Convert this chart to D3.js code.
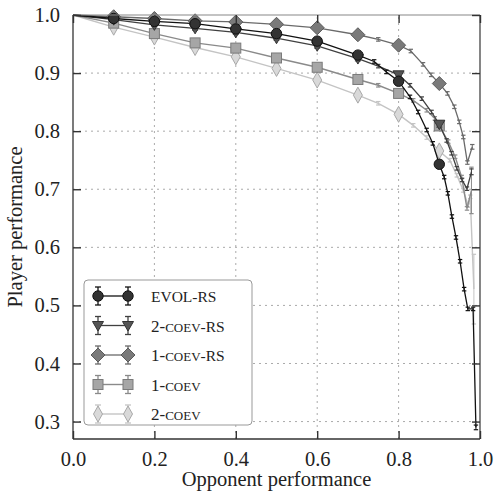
<!DOCTYPE html>
<html><head><meta charset="utf-8">
<script src="https://cdn.jsdelivr.net/npm/d3@7"></script>
<style>body{margin:0;background:#fff}svg{display:block}text{font-family:"Liberation Serif","Times New Roman",Times,serif}</style>
</head><body><svg id="c" width="494" height="494"></svg>
<script>
const xTicks = [0, 0.2, 0.4, 0.6, 0.8, 1.0];
const yTicks = [0.3, 0.4, 0.5, 0.6, 0.7, 0.8, 0.9, 1.0];
const seriesNames = ["EVOL-RS", "2-COEV-RS", "1-COEV-RS", "1-COEV", "2-COEV"];

const evolX = [0, 0.1, 0.2, 0.3, 0.4, 0.5, 0.6, 0.7, 0.74, 0.77, 0.8, 0.828, 0.848, 0.869, 0.884, 0.9, 0.912, 0.921, 0.931, 0.941, 0.951, 0.961, 0.970, 0.983, 0.990];
const evolY = [1.0, 0.994, 0.989, 0.985, 0.976, 0.968, 0.955, 0.931, 0.920, 0.902, 0.886, 0.859, 0.833, 0.802, 0.779, 0.743, 0.721, 0.693, 0.653, 0.617, 0.576, 0.528, 0.494, 0.494, 0.290];
const evolErr = [0, 0.002, 0.002, 0.002, 0.002, 0.003, 0.003, 0.003, 0.003, 0.003, 0.004, 0.003, 0.003, 0.003, 0.003, 0.005, 0.003, 0.003, 0.003, 0.003, 0.003, 0.003, 0.003, 0.003, 0.004];

const coev2rsX = [0, 0.1, 0.2, 0.3, 0.4, 0.5, 0.6, 0.7, 0.75, 0.8, 0.828, 0.857, 0.881, 0.9, 0.918, 0.930, 0.943, 0.956, 0.968, 0.979];
const coev2rsY = [1.0, 0.992, 0.983, 0.977, 0.970, 0.960, 0.947, 0.925, 0.912, 0.897, 0.879, 0.856, 0.833, 0.812, 0.784, 0.762, 0.736, 0.716, 0.701, 0.730];
const coev2rsErr = [0, 0.003, 0.003, 0.003, 0.003, 0.003, 0.004, 0.004, 0.003, 0.005, 0.003, 0.003, 0.003, 0.005, 0.003, 0.003, 0.003, 0.003, 0.003, 0.005];

const coev1rsX = [0, 0.1, 0.2, 0.3, 0.4, 0.5, 0.6, 0.7, 0.75, 0.8, 0.83, 0.86, 0.88, 0.9, 0.92, 0.937, 0.949, 0.959, 0.969, 0.981];
const coev1rsY = [1.0, 0.997, 0.994, 0.990, 0.988, 0.984, 0.978, 0.966, 0.958, 0.948, 0.938, 0.915, 0.897, 0.882, 0.865, 0.842, 0.816, 0.790, 0.746, 0.773];
const coev1rsErr = [0, 0.002, 0.002, 0.002, 0.002, 0.002, 0.003, 0.003, 0.003, 0.004, 0.003, 0.003, 0.003, 0.004, 0.003, 0.003, 0.003, 0.003, 0.003, 0.004];

const coev1X = [0, 0.1, 0.2, 0.3, 0.4, 0.5, 0.6, 0.7, 0.75, 0.8, 0.836, 0.869, 0.889, 0.9, 0.922, 0.939, 0.955, 0.968, 0.979];
const coev1Y = [1.0, 0.986, 0.968, 0.952, 0.943, 0.926, 0.910, 0.889, 0.879, 0.865, 0.853, 0.836, 0.822, 0.809, 0.782, 0.756, 0.721, 0.667, 0.698];
const coev1Err = [0, 0.003, 0.003, 0.003, 0.003, 0.003, 0.003, 0.004, 0.003, 0.005, 0.003, 0.003, 0.003, 0.005, 0.003, 0.003, 0.003, 0.003, 0.04];

const coev2X = [0, 0.1, 0.2, 0.3, 0.4, 0.5, 0.6, 0.7, 0.75, 0.8, 0.836, 0.869, 0.9, 0.926, 0.943, 0.959, 0.971, 0.976, 0.985];
const coev2Y = [1.0, 0.979, 0.962, 0.944, 0.928, 0.908, 0.888, 0.862, 0.848, 0.829, 0.810, 0.789, 0.766, 0.750, 0.724, 0.698, 0.672, 0.687, 0.528];
const coev2Err = [0, 0.003, 0.003, 0.003, 0.003, 0.003, 0.003, 0.004, 0.003, 0.005, 0.003, 0.003, 0.005, 0.003, 0.003, 0.003, 0.003, 0.003, 0.06];

const W = 494, H = 494;
const m = {left: 73, right: 14, top: 15, bottom: 55};
const x = d3.scaleLinear().domain([0, 1]).range([m.left, W - m.right]);
const y = d3.scaleLinear().domain([0.27, 1.0]).range([H - m.bottom, m.top]);
const svg = d3.select("#c");
const FONT = "Liberation Serif";
const FS = 20.5;

const grid = svg.append("g");
xTicks.filter(t => t > 0 && t < 1).forEach(t => {
  grid.append("line").attr("x1", x(t)).attr("x2", x(t)).attr("y1", y(0.27)).attr("y2", y(1))
    .attr("stroke", "#aaa").attr("stroke-width", 1).attr("stroke-dasharray", "2,4");
});
yTicks.filter(t => t < 1).forEach(t => {
  grid.append("line").attr("x1", x(0)).attr("x2", x(1)).attr("y1", y(t)).attr("y2", y(t))
    .attr("stroke", "#aaa").attr("stroke-width", 1).attr("stroke-dasharray", "2,4");
});

const series = [
  {name: seriesNames[4], xs: coev2X, ys: coev2Y, es: coev2Err, line: "#c4c4c4", fill: "#d9d9d9", stroke: "#a8a8a8", shape: "thin", lw: 1.4},
  {name: seriesNames[3], xs: coev1X, ys: coev1Y, es: coev1Err, line: "#8a8a8a", fill: "#a6a6a6", stroke: "#7a7a7a", shape: "square", lw: 1.4},
  {name: seriesNames[2], xs: coev1rsX, ys: coev1rsY, es: coev1rsErr, line: "#6a6a6a", fill: "#7a7a7a", stroke: "#5a5a5a", shape: "diamond", lw: 1.3},
  {name: seriesNames[1], xs: coev2rsX, ys: coev2rsY, es: coev2rsErr, line: "#404040", fill: "#555", stroke: "#333", shape: "tri", lw: 1.3},
  {name: seriesNames[0], xs: evolX, ys: evolY, es: evolErr, line: "#111", fill: "#333", stroke: "#111", shape: "circle", lw: 1.3}
];

function marker(g, shape, cx, cy, s) {
  let el;
  if (shape === "circle") {
    el = g.append("circle").attr("cx", cx).attr("cy", cy).attr("r", 5.2);
  } else if (shape === "square") {
    el = g.append("rect").attr("x", cx - 5).attr("y", cy - 5).attr("width", 10).attr("height", 10);
  } else if (shape === "diamond") {
    el = g.append("path").attr("d", `M${cx},${cy-7}L${cx+7},${cy}L${cx},${cy+7}L${cx-7},${cy}Z`);
  } else if (shape === "thin") {
    el = g.append("path").attr("d", `M${cx},${cy-8}L${cx+4.5},${cy}L${cx},${cy+8}L${cx-4.5},${cy}Z`);
  } else {
    el = g.append("path").attr("d", `M${cx-5.5},${cy-4}L${cx+5.5},${cy-4}L${cx},${cy+5.5}Z`);
  }
  el.attr("fill", s.fill).attr("stroke", s.stroke).attr("stroke-width", 1);
}

const isMajor = v => v > 0.05 && v < 0.95 && Math.abs(v * 10 - Math.round(v * 10)) < 1e-6;

const plot = svg.append("g");
series.forEach(s => {
  const pts = s.xs.map((v, i) => ({x: v, y: s.ys[i], e: s.es[i]}));
  const g = plot.append("g");
  g.append("path").datum(pts)
    .attr("d", d3.line().x(d => x(d.x)).y(d => y(d.y)))
    .attr("fill", "none").attr("stroke", s.line).attr("stroke-width", s.lw);
  pts.forEach(p => {
    if (p.e <= 0) return;
    const cw = isMajor(p.x) ? 3 : 2.2;
    const y1 = y(p.y - p.e), y2 = y(p.y + p.e);
    g.append("line").attr("x1", x(p.x)).attr("x2", x(p.x)).attr("y1", y1).attr("y2", y2).attr("stroke", s.line).attr("stroke-width", 1);
    [y1, y2].forEach(yy => g.append("line").attr("x1", x(p.x) - cw).attr("x2", x(p.x) + cw).attr("y1", yy).attr("y2", yy).attr("stroke", s.line).attr("stroke-width", 1.2));
  });
  pts.filter(p => isMajor(p.x)).forEach(p => marker(g, s.shape, x(p.x), y(p.y), s));
});

const fr = svg.append("g");
fr.append("line").attr("x1", x(0)).attr("x2", x(1)).attr("y1", y(1)).attr("y2", y(1)).attr("stroke", "#888").attr("stroke-width", 1.2);
fr.append("line").attr("x1", x(1)).attr("x2", x(1)).attr("y1", y(1)).attr("y2", y(0.27)).attr("stroke", "#444").attr("stroke-width", 1.3);
fr.append("line").attr("x1", x(0)).attr("x2", x(1)).attr("y1", y(0.27)).attr("y2", y(0.27)).attr("stroke", "#333").attr("stroke-width", 1.3);
fr.append("line").attr("x1", x(0)).attr("x2", x(0)).attr("y1", y(1)).attr("y2", y(0.27)).attr("stroke", "#333").attr("stroke-width", 1.3);

const xAxis = svg.append("g").attr("transform", `translate(0,${y(0.27)})`)
  .call(d3.axisBottom(x).tickValues(xTicks).tickFormat(d3.format(".1f")).tickSizeInner(-8).tickSizeOuter(0).tickPadding(12));
const yAxis = svg.append("g").attr("transform", `translate(${x(0)},0)`)
  .call(d3.axisLeft(y).tickValues(yTicks).tickFormat(d3.format(".1f")).tickSizeInner(-8).tickSizeOuter(0).tickPadding(13));
const yAxisR = svg.append("g").attr("transform", `translate(${x(1)},0)`)
  .call(d3.axisRight(y).tickValues(yTicks).tickFormat("").tickSizeInner(-8).tickSizeOuter(0));
const xAxisT = svg.append("g").attr("transform", `translate(0,${y(1)})`)
  .call(d3.axisTop(x).tickValues(xTicks).tickFormat("").tickSizeInner(-8).tickSizeOuter(0));
[xAxis, yAxis, yAxisR, xAxisT].forEach(a => {
  a.attr("font-family", FONT).attr("font-size", FS);
  a.select(".domain").remove();
  a.selectAll(".tick line").attr("stroke", "#333").attr("stroke-width", 1.4);
  a.selectAll("text").attr("font-family", FONT).attr("font-size", FS).attr("fill", "#222");
});

svg.append("text").attr("x", (x(0) + x(1)) / 2).attr("y", 486).attr("text-anchor", "middle")
  .attr("font-family", FONT).attr("font-size", FS).attr("fill", "#222").text("Opponent performance");
svg.append("text").attr("transform", `translate(22,${(y(1) + y(0.27)) / 2}) rotate(-90)`).attr("text-anchor", "middle")
  .attr("font-family", FONT).attr("font-size", FS).attr("fill", "#222").text("Player performance");

const lg = svg.append("g");
lg.append("rect").attr("x", 84).attr("y", 280).attr("width", 168).attr("height", 145).attr("rx", 4)
  .attr("fill", "#fff").attr("stroke", "#999").attr("stroke-width", 1);
const order = [4, 3, 2, 1, 0];
order.forEach((si, k) => {
  const s = series[si];
  const cy = 296 + k * 29.5;
  const g = lg.append("g");
  g.append("line").attr("x1", 98).attr("x2", 128).attr("y1", cy).attr("y2", cy).attr("stroke", s.line).attr("stroke-width", s.lw);
  [98, 128].forEach(cx => {
    g.append("line").attr("x1", cx).attr("x2", cx).attr("y1", cy - 9).attr("y2", cy + 9).attr("stroke", s.line).attr("stroke-width", 1.3);
    [cy - 9, cy + 9].forEach(yy => g.append("line").attr("x1", cx - 3).attr("x2", cx + 3).attr("y1", yy).attr("y2", yy).attr("stroke", s.line).attr("stroke-width", 1.3));
    marker(g, s.shape, cx, cy, s);
  });
  const t = g.append("text").attr("x", 151).attr("y", cy + 6).attr("font-family", FONT).attr("font-size", 17).attr("fill", "#222");
  const parts = s.name.split("-");
  parts.forEach((p, j) => {
    if (p === "COEV") {
      t.append("tspan").text("-");
      t.append("tspan").attr("font-size", 13).text(p);
    } else {
      t.append("tspan").attr("font-size", p === "EVOL" ? 15.5 : (p === "RS" ? 15.5 : 17)).text((j > 0 ? "-" : "") + p);
    }
  });
});
</script></body></html>
